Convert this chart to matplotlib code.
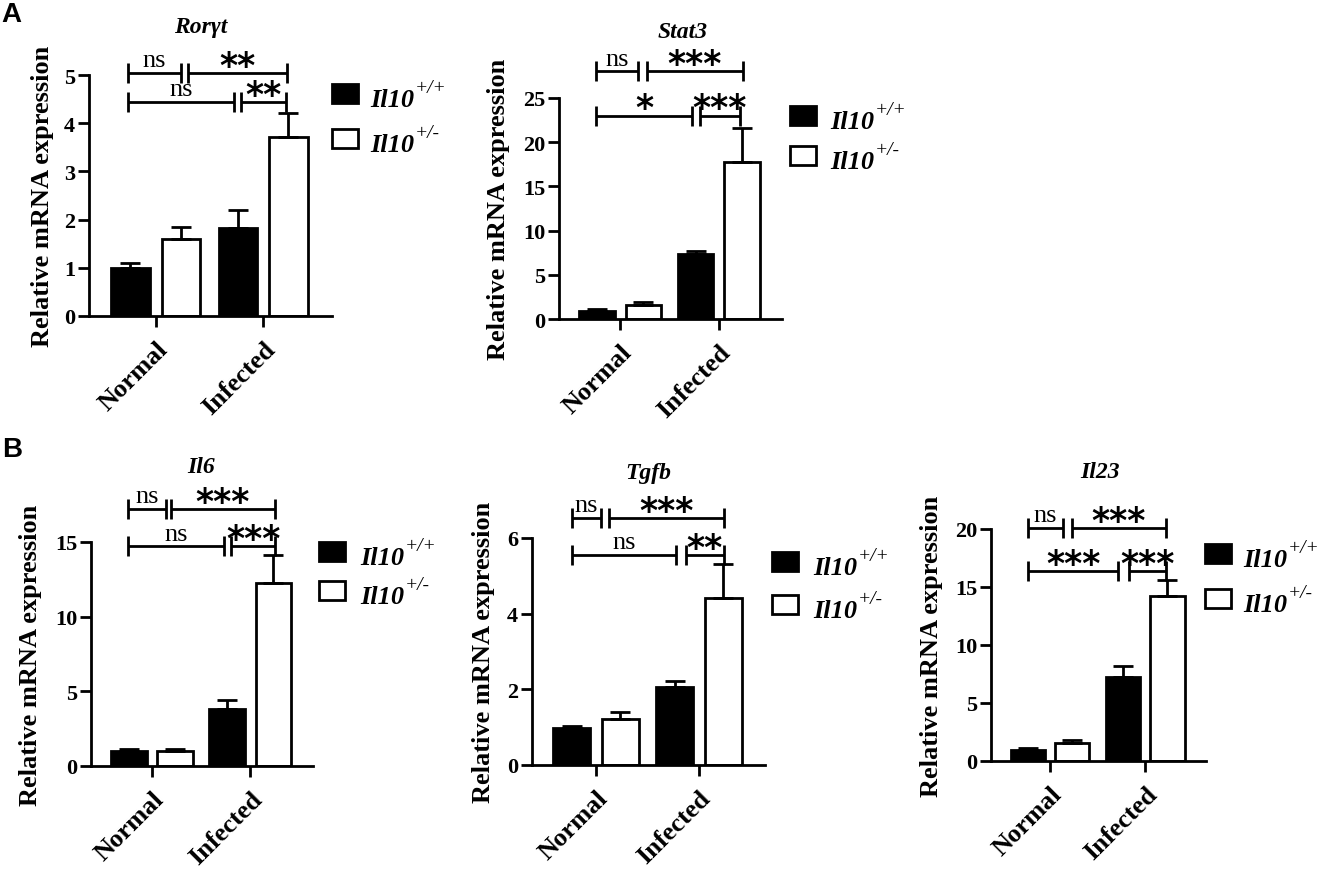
import numpy as np
import matplotlib
matplotlib.use("Agg")
import matplotlib.pyplot as plt
from matplotlib.patches import Rectangle
from matplotlib.transforms import ScaledTranslation

W, H = 1318, 870

# --- data ---
CATEGORIES = ["Normal", "Infected"]
GENES = ["Rorγt", "Stat3", "Il6", "Tgfb", "Il23"]
WT_MEAN = [[1.00, 1.82], [0.90, 7.30], [1.00, 3.80], [0.97, 2.06], [0.95, 7.25]]
WT_SEM = [[0.10, 0.38], [0.18, 0.40], [0.15, 0.63], [0.07, 0.15], [0.20, 0.90]]
HET_MEAN = [[1.60, 3.72], [1.60, 17.8], [1.00, 12.24], [1.22, 4.42], [1.59, 14.25]]
HET_SEM = [[0.25, 0.50], [0.30, 3.80], [0.15, 1.90], [0.17, 0.90], [0.22, 1.38]]
YMAX = [5, 25, 15, 6, 20]
YSTEP = [1, 5, 5, 2, 5]
SIG_TOP = [("ns", "**"), ("ns", "***"), ("ns", "***"), ("ns", "***"), ("ns", "***")]
SIG_LOW = [("ns", "**"), ("*", "***"), ("ns", "***"), ("ns", "**"), ("***", "***")]
GENOTYPE = "Il10"
ALLELES = ["+/+", "+/-"]

# --- layout (reference pixels, y from top) ---
BOX = [(89, 76, 332, 317), (559, 99, 782, 320), (91, 543, 313, 767),
       (532, 539, 765, 766), (991, 530, 1206, 762)]
TITLE_XY = [(201, 27), (683, 32), (201, 468), (648, 474), (1100, 472)]
YLAB_X = [54, 510, 42, 495, 943]
LEG = [(332, 85, 130, 370), (790, 107, 147, 830), (319, 543, 582, 360),
       (772, 553, 596, 813), (1205, 545, 590, 1243)]
BR_Y = [(5.04, 4.44), (28.0, 23.0), (17.2, 14.7), (6.53, 5.54), (20.1, 16.4)]
BR_X = [
    ([(-0.26, 0.24), (0.30, 1.22)], [(-0.26, 0.73), (0.79, 1.21)]),
    ([(-0.24, 0.18), (0.27, 1.24)], [(-0.24, 0.73), (0.81, 1.21)]),
    ([(-0.24, 0.14), (0.19, 1.25)], [(-0.24, 0.73), (0.81, 1.25)]),
    ([(-0.23, 0.05), (0.13, 1.24)], [(-0.23, 0.78), (0.87, 1.24)]),
    ([(-0.23, 0.14), (0.23, 1.22)], [(-0.23, 0.72), (0.83, 1.22)]),
]
BW, OFF = 0.36, 0.235
SERIF = "Liberation Serif"

plt.rcParams["font.family"] = SERIF
plt.rcParams["font.weight"] = "bold"


def fx(px):
    return px / W


def fy(py):
    return 1 - py / H


fig = plt.figure(figsize=(W / 100, H / 100), dpi=100)
renderer = fig.canvas.get_renderer()
shift = ScaledTranslation(3 / 72, 0, fig.dpi_scale_trans)

for k, gene in enumerate(GENES):
    l, t, r, b = BOX[k]
    ax = fig.add_axes([fx(l), fy(b), (r - l) / W, (b - t) / H])
    x = np.arange(len(CATEGORIES))
    ekw = dict(elinewidth=2, capthick=2, ecolor="black")
    ax.bar(x - OFF, WT_MEAN[k], BW, color="black", edgecolor="black", lw=2,
           yerr=[np.zeros(2), WT_SEM[k]], capsize=7, error_kw=ekw)
    ax.bar(x + OFF, HET_MEAN[k], BW, color="white", edgecolor="black", lw=2,
           yerr=[np.zeros(2), HET_SEM[k]], capsize=7, error_kw=ekw)

    ax.set_xlim(-0.62, 1.64)
    ax.set_ylim(0, YMAX[k])
    ax.set_yticks(np.arange(0, YMAX[k] + YSTEP[k] / 2, YSTEP[k]))
    ax.set_xticks(x, CATEGORIES, rotation=45, ha="right",
                  rotation_mode="anchor", fontsize=19, fontweight="bold")
    for lab in ax.get_xticklabels():
        lab.set_transform(lab.get_transform() + shift)
    for lab in ax.get_yticklabels():
        lab.set_fontweight("bold")
        lab.set_fontsize(16)
    for s in ("top", "right"):
        ax.spines[s].set_visible(False)
    for s in ("left", "bottom"):
        ax.spines[s].set_linewidth(2)
    ax.tick_params(width=2, length=8, pad=2)
    ax.tick_params(axis="x", pad=7)

    ax.set_ylabel("Relative mRNA expression", fontsize=19, fontweight="bold")
    ax.yaxis.set_label_coords(fx(YLAB_X[k]), fy((t + b) / 2),
                              transform=fig.transFigure)

    # significance brackets
    dy = 10 * YMAX[k] / ax.bbox.height
    for row, labels in enumerate((SIG_TOP[k], SIG_LOW[k])):
        yb = BR_Y[k][row]
        for (x0, x1), lab in zip(BR_X[k][row], labels):
            ax.plot([x0, x1], [yb, yb], color="black", lw=2, clip_on=False,
                    solid_capstyle="butt")
            for xe in (x0, x1):
                ax.plot([xe, xe], [yb - dy, yb + dy], color="black", lw=2,
                        clip_on=False, solid_capstyle="butt")
            xm = (x0 + x1) / 2
            if lab == "ns":
                ax.annotate(lab, (xm, yb), xytext=(0, 5), textcoords="offset points",
                            ha="center", va="baseline", fontsize=19,
                            fontweight="normal", annotation_clip=False)
            else:
                ax.annotate(lab, (xm, yb), xytext=(0, -2), textcoords="offset points",
                            ha="center", va="baseline", fontsize=25,
                            family="DejaVu Sans", fontweight="bold",
                            annotation_clip=False)

    # legend: filled / open square, Il10 with superscript allele
    sx, sy1, sy2, tx = LEG[k]
    for top, fc, allele in zip((sy1, sy2), ("black", "white"), ALLELES):
        fig.add_artist(Rectangle((fx(sx), fy(top + 19)), 26 / W, 19 / H,
                                 transform=fig.transFigure, fc=fc,
                                 ec="black", lw=2))
        base = fig.text(fx(tx), fy(top + 22), GENOTYPE, fontsize=19,
                        style="italic", weight="bold", ha="left", va="baseline")
        ext = base.get_window_extent(renderer=renderer)
        fig.text(fx(ext.x1 + 1), fy(top + 8), allele, fontsize=14,
                 style="italic", weight="normal", ha="left", va="baseline")

    tx_, ty_ = TITLE_XY[k]
    fig.text(fx(tx_), fy(ty_), gene, fontsize=17, style="italic",
             weight="bold", ha="center", va="center")

fig.text(fx(1), fy(15), "A", family="Liberation Sans", weight="bold",
         fontsize=20, ha="left", va="center")
fig.text(fx(2), fy(450), "B", family="Liberation Sans", weight="bold",
         fontsize=20, ha="left", va="center")

fig.savefig("out.png", dpi=100)
